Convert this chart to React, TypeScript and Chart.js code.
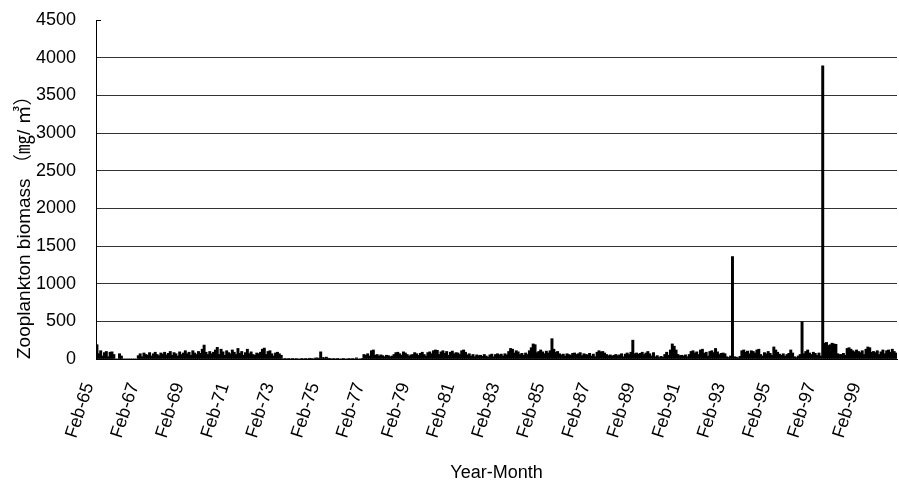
import React, { useEffect, useRef } from "react";
import { Chart, registerables } from "chart.js";
Chart.register(...registerables);

// ---- data ----
const MONTH_NAMES = ["Jan", "Feb", "Mar", "Apr", "May", "Jun", "Jul", "Aug", "Sep", "Oct", "Nov", "Dec"];
const FIRST_YEAR = 1965; // series starts Feb-65
const TICK_LABELS = [
  "Feb-65", "Feb-67", "Feb-69", "Feb-71", "Feb-73", "Feb-75", "Feb-77", "Feb-79", "Feb-81",
  "Feb-83", "Feb-85", "Feb-87", "Feb-89", "Feb-91", "Feb-93", "Feb-95", "Feb-97", "Feb-99",
];
const Y_TICKS = [0, 500, 1000, 1500, 2000, 2500, 3000, 3500, 4000, 4500];

// monthly biomass, each row Feb..Jan (mg/m3)
const b1965 = [190, 70, 110, 40, 85, 100, 30, 90, 95, 60, 0, 0];
const b1966 = [70, 40, 0, 0, 0, 0, 0, 0, 0, 0, 45, 70];
const b1967 = [30, 80, 60, 50, 85, 40, 70, 90, 60, 45, 80, 65];
const b1968 = [90, 55, 75, 100, 50, 85, 70, 40, 95, 60, 80, 110];
const b1969 = [70, 90, 50, 110, 80, 60, 100, 75, 130, 185, 90, 60];
const b1970 = [100, 70, 90, 120, 155, 60, 130, 95, 50, 110, 85, 70];
const b1971 = [120, 90, 60, 140, 75, 100, 50, 85, 130, 70, 95, 60];
const b1972 = [50, 80, 70, 90, 130, 145, 60, 100, 110, 70, 40, 80];
const b1973 = [90, 70, 50, 0, 5, 0, 8, 0, 5, 0, 6, 0];
const b1974 = [0, 5, 0, 8, 0, 10, 5, 0, 12, 15, 10, 95];
const b1975 = [20, 15, 25, 10, 5, 0, 8, 0, 5, 0, 0, 5];
const b1976 = [0, 0, 5, 0, 8, 0, 15, 0, 0, 5, 60, 50];
const b1977 = [70, 40, 110, 120, 50, 60, 40, 55, 45, 30, 50, 45];
const b1978 = [30, 40, 60, 85, 90, 70, 50, 95, 80, 60, 40, 55];
const b1979 = [60, 85, 70, 50, 75, 90, 60, 40, 85, 95, 70, 110];
const b1980 = [120, 115, 60, 95, 110, 75, 100, 50, 90, 105, 70, 85];
const b1981 = [80, 60, 110, 120, 90, 55, 70, 40, 60, 30, 55, 45];
const b1982 = [50, 35, 60, 40, 25, 55, 65, 30, 60, 70, 55, 65];
const b1983 = [40, 70, 55, 100, 140, 130, 80, 110, 95, 60, 75, 50];
const b1984 = [80, 60, 110, 150, 200, 190, 85, 100, 120, 95, 70, 105];
const b1985 = [80, 110, 270, 130, 90, 100, 70, 55, 65, 40, 70, 60];
const b1986 = [50, 75, 80, 60, 70, 85, 45, 70, 60, 55, 75, 40];
const b1987 = [65, 30, 90, 110, 95, 100, 80, 60, 45, 55, 40, 50];
const b1988 = [60, 45, 55, 70, 30, 65, 80, 60, 90, 250, 70, 80];
const b1989 = [65, 75, 90, 60, 80, 100, 70, 40, 85, 30, 45, 20];
const b1990 = [35, 25, 60, 90, 50, 120, 200, 170, 120, 60, 45, 50];
const b1991 = [40, 55, 30, 60, 100, 110, 80, 95, 60, 120, 130, 75];
const b1992 = [90, 40, 100, 110, 85, 140, 95, 60, 75, 80, 70, 30];
const b1993 = [20, 40, 1360, 30, 25, 15, 35, 110, 120, 90, 105, 70];
const b1994 = [110, 100, 80, 120, 130, 60, 40, 85, 70, 100, 75, 50];
const b1995 = [160, 120, 90, 65, 50, 70, 40, 60, 75, 120, 80, 30];
const b1996 = [20, 40, 60, 495, 70, 100, 120, 80, 60, 90, 75, 50];
const b1997 = [80, 40, 3890, 210, 220, 180, 190, 210, 200, 195, 70, 60];
const b1998 = [60, 75, 50, 140, 150, 130, 110, 95, 120, 100, 85, 110];
const b1999 = [60, 130, 160, 150, 90, 100, 85, 110, 60, 95, 120, 70];
const b2000 = [110, 120, 90, 130, 100, 80];

const BIOMASS = [
  ...b1965, ...b1966, ...b1967, ...b1968, ...b1969, ...b1970, ...b1971, ...b1972,
  ...b1973, ...b1974, ...b1975, ...b1976, ...b1977, ...b1978, ...b1979, ...b1980,
  ...b1981, ...b1982, ...b1983, ...b1984, ...b1985, ...b1986, ...b1987, ...b1988,
  ...b1989, ...b1990, ...b1991, ...b1992, ...b1993, ...b1994, ...b1995, ...b1996,
  ...b1997, ...b1998, ...b1999, ...b2000,
];

const CATEGORIES = BIOMASS.map((_, i) => {
  const m = (1 + i) % 12;
  const y = FIRST_YEAR + Math.floor((1 + i) / 12);
  return `${MONTH_NAMES[m]}-${String(y % 100).padStart(2, "0")}`;
});

const FONT = "'Liberation Sans', Arial, 'Noto Sans CJK KR', sans-serif";

// short tick mark at the top of the value axis
const topTick = {
  id: "topTick",
  afterDraw(chart: any) {
    const { ctx, chartArea, scales } = chart;
    const y = Math.round(scales.y.getPixelForValue(4500)) + 0.5;
    ctx.save();
    ctx.strokeStyle = "#000";
    ctx.lineWidth = 1;
    ctx.beginPath();
    ctx.moveTo(chartArea.left, y);
    ctx.lineTo(chartArea.left + 5, y);
    ctx.stroke();
    ctx.restore();
  },
};

export default function App() {
  const ref = useRef<HTMLCanvasElement | null>(null);
  useEffect(() => {
    document.body.style.margin = "0";
    const canvas = ref.current!;
    const chart = new Chart(canvas, {
      type: "bar",
      data: {
        labels: CATEGORIES,
        datasets: [
          {
            data: BIOMASS,
            backgroundColor: "#000",
            borderWidth: 0,
            barThickness: 2.3,
          },
        ],
      },
      plugins: [topTick],
      options: {
        responsive: false,
        animation: false,
        devicePixelRatio: 1,
        layout: { padding: { top: 20, right: 2, left: 0, bottom: 0 } },
        plugins: { legend: { display: false }, tooltip: { enabled: false } },
        scales: {
          x: {
            afterFit: (s: any) => {
              s.height = 122;
              s.paddingLeft = 0;
              s.paddingRight = 0;
            },
            grid: { display: false, drawTicks: false },
            border: { display: true, color: "#000", width: 1 },
            ticks: {
              autoSkip: false,
              minRotation: 72,
              maxRotation: 72,
              padding: 21,
              labelOffset: -8,
              color: "#000",
              font: { family: FONT, size: 18 },
              callback: (_v: any, idx: number) => {
                const lab = CATEGORIES[idx];
                return TICK_LABELS.includes(lab) ? lab : "";
              },
            },
            title: {
              display: true,
              text: "Year-Month",
              color: "#000",
              font: { family: FONT, size: 18 },
              padding: { top: 0, bottom: -3 },
            },
          },
          y: {
            min: 0,
            max: 4500,
            afterFit: (s: any) => {
              s.width = 96;
              s.paddingTop = 0;
              s.paddingBottom = 0;
            },
            afterBuildTicks: (s: any) => {
              s.ticks = Y_TICKS.map((v) => ({ value: v }));
            },
            grid: {
              drawTicks: false,
              color: (c: any) => (c.tick && c.tick.value === 4500 ? "rgba(0,0,0,0)" : "#333"),
              lineWidth: 1,
            },
            border: { display: true, color: "#000", width: 1 },
            ticks: {
              padding: 20,
              color: "#000",
              font: { family: FONT, size: 18 },
              callback: (v: any) => String(v),
            },
            title: {
              display: true,
              align: "start",
              text: "Zooplankton biomass （㎎/ ㎥）",
              color: "#000",
              font: { family: FONT, size: 19 },
              padding: { top: 13, bottom: 0 },
            },
          },
        },
      },
    });
    return () => chart.destroy();
  }, []);
  return (
    <div style={{ position: "absolute", left: 0, top: 0, width: 899, height: 481 }}>
      <canvas ref={ref} width={899} height={481} />
    </div>
  );
}
